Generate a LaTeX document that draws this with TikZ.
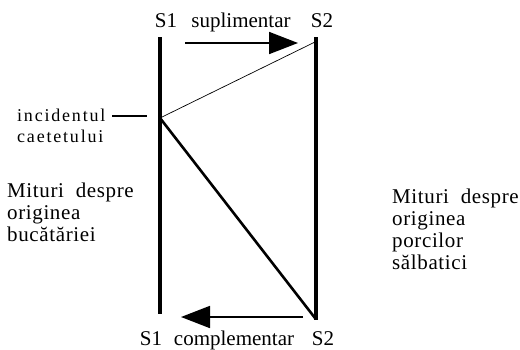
\documentclass[tikz,border=0pt]{standalone}
\usepackage{fontspec}
\setmainfont{Liberation Serif}
\usetikzlibrary{arrows.meta}
\begin{document}
\begin{tikzpicture}[x=1pt,y=-1pt,
  bar/.style={line width=3.5pt},
  lbl/.style={inner sep=0pt,anchor=base,font=\fontsize{21}{22}\selectfont},
  block/.style={inner sep=0pt,align=left,anchor=north west,font=\fontsize{21}{22}\selectfont\addfontfeature{LetterSpace=3}},
  small/.style={inner sep=0pt,anchor=base west,font=\fontsize{18}{18}\selectfont\addfontfeature{LetterSpace=10}},
  big/.style={line width=1.8pt,-{Triangle[length=29pt,width=22pt]}}]
\useasboundingbox (0,0) rectangle (520,349);
\coordinate (l1) at (160,37);
\coordinate (l2) at (160,314);
\coordinate (r1) at (316,37);
\coordinate (r2) at (316,320);
\coordinate (j) at (160,118);
\draw[bar] (l1) -- (l2);
\draw[bar] (r1) -- (r2);
\coordinate (rt) at (315,42);
\coordinate (rb) at (315,318);
\draw[line width=0.7pt] (j) -- (rt);
\draw[line width=2.6pt] (j) -- (rb);
\node[lbl] (ts1) at (166,27) {S1};
\node[lbl] (tsup) at (241,27) {suplimentar};
\node[lbl] (ts2) at (322,27) {S2};
\node[lbl] (bs1) at (151,345) {S1};
\node[lbl] (bcom) at (234,345) {complementar};
\node[lbl] (bs2) at (323,345) {S2};
\coordinate (ta) at (185,43);
\coordinate (tb) at (298,43);
\draw[big] (ta) -- (tb);
\coordinate (ba) at (303,317);
\coordinate (bb) at (181,317);
\draw[big] (ba) -- (bb);
\node[small] (inc) at (17,121) {incidentul};
\node[small] (cae) at (17,142) {caetetului};
\coordinate (tick) at (147,116);
\coordinate (tick0) at (112,116);
\draw[line width=1.8pt] (tick0) -- (tick);
\node[block] (lm) at (7,183) {Mituri\ \ despre\\originea\\bucătăriei};
\node[block] (rm) at (392,189) {Mituri\ \ despre\\originea\\porcilor\\sălbatici};
\end{tikzpicture}
\end{document}
